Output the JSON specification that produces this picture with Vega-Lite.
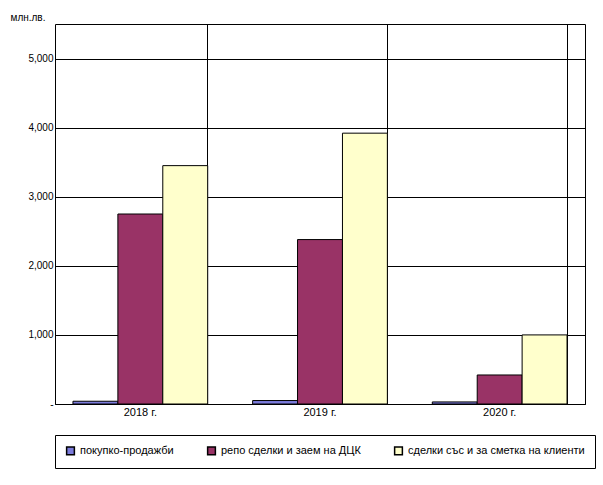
{
  "$schema": "https://vega.github.io/schema/vega-lite/v6.json",
  "width": 530,
  "height": 380,
  "padding": {"left": 10, "top": 12, "right": 10, "bottom": 5},
  "background": "white",
  "config": {"font": "Liberation Sans", "view": {"stroke": "black"}},
  "data": {
    "values": [
      {"year": "2018 г.", "type": "покупко-продажби", "value": 40},
      {"year": "2018 г.", "type": "репо сделки и заем на ДЦК", "value": 2750},
      {"year": "2018 г.", "type": "сделки със и за сметка на клиенти", "value": 3450},
      {"year": "2019 г.", "type": "покупко-продажби", "value": 50},
      {"year": "2019 г.", "type": "репо сделки и заем на ДЦК", "value": 2380},
      {"year": "2019 г.", "type": "сделки със и за сметка на клиенти", "value": 3920},
      {"year": "2020 г.", "type": "покупко-продажби", "value": 30},
      {"year": "2020 г.", "type": "репо сделки и заем на ДЦК", "value": 420},
      {"year": "2020 г.", "type": "сделки със и за сметка на клиенти", "value": 1000}
    ]
  },
  "mark": {"type": "bar", "stroke": "black", "strokeWidth": 1},
  "encoding": {
    "x": {
      "field": "year", "type": "nominal", "title": null,
      "scale": {"paddingInner": 0.25, "paddingOuter": 0.1},
      "axis": {"labelAngle": 0, "labelFontSize": 11, "labelColor": "black", "domainColor": "black", "ticks": false, "grid": true, "gridColor": "black", "bandPosition": 1}
    },
    "xOffset": {
      "field": "type", "type": "nominal",
      "sort": ["покупко-продажби", "репо сделки и заем на ДЦК", "сделки със и за сметка на клиенти"]
    },
    "y": {
      "field": "value", "type": "quantitative",
      "scale": {"domain": [0, 5500]},
      "axis": {
        "values": [0, 1000, 2000, 3000, 4000, 5000],
        "title": "млн.лв.", "titleAngle": 0, "titleAlign": "left", "titleAnchor": "end",
        "titleX": -45, "titleY": -2, "titleFontWeight": "normal", "titleFontSize": 10,
        "labelExpr": "datum.value == 0 ? '-' : format(datum.value, ',')",
        "labelFontSize": 10, "labelColor": "black", "domain": false, "ticks": false,
        "gridColor": "black"
      }
    },
    "color": {
      "field": "type", "type": "nominal",
      "sort": ["покупко-продажби", "репо сделки и заем на ДЦК", "сделки със и за сметка на клиенти"],
      "scale": {"range": ["#7b7bdb", "#993366", "#ffffcc"]},
      "legend": {
        "orient": "bottom", "direction": "horizontal", "title": null,
        "symbolType": "square", "symbolStrokeColor": "black", "symbolSize": 60,
        "labelFontSize": 11, "labelColor": "black", "columnPadding": 30,
        "strokeColor": "black", "padding": 10, "offset": 18, "labelLimit": 300
      }
    }
  }
}
